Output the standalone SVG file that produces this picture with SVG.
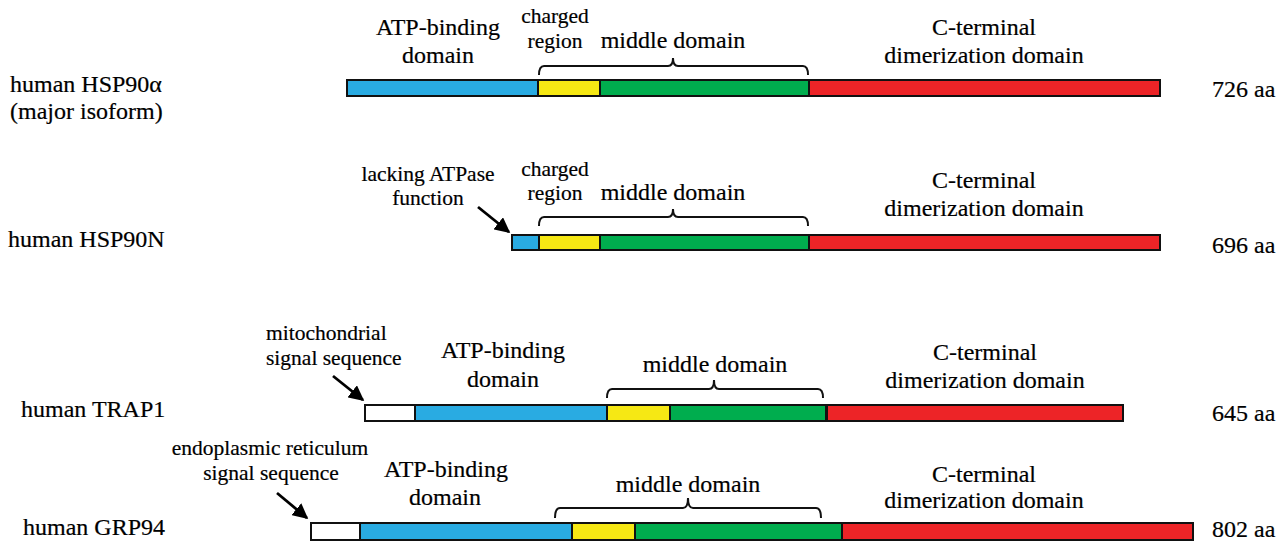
<svg xmlns="http://www.w3.org/2000/svg" width="1288" height="544" viewBox="0 0 1288 544" font-family="Liberation Serif, DejaVu Serif, serif">
<style>
text{font-family:'Liberation Serif','DejaVu Serif',serif;fill:#000;stroke:#000;stroke-width:0.2px;}
.m{font-size:24px;}
.s{font-size:21.5px;}
.c{text-anchor:middle;}
.seg{stroke:#111;stroke-width:2;}
.w{fill:#ffffff;}
.b{fill:#29abe2;}
.y{fill:#f6e814;}
.g{fill:#00ad4e;}
.r{fill:#ed2427;}
.br{fill:none;stroke:#111;stroke-width:2;}
.ar{stroke:#000;stroke-width:2.8;fill:none;}
</style>
<defs>
<marker id="ah" viewBox="0 0 10 10" refX="9" refY="5" markerWidth="5.5" markerHeight="5.5" orient="auto" markerUnits="strokeWidth">
<path d="M0,0 L10,5 L0,10 z" fill="#000"/>
</marker>
</defs>
<rect width="1288" height="544" fill="#ffffff"/>

<g id="hsp90a">
<text class="m" x="10" y="92">human HSP90α</text>
<text class="m" x="10" y="119">(major isoform)</text>
<rect class="seg b" x="347" y="80" width="191" height="16"/>
<rect class="seg y" x="538" y="80" width="62" height="16"/>
<rect class="seg g" x="600" y="80" width="209" height="16"/>
<rect class="seg r" x="809" y="80" width="351" height="16"/>
<text class="m c" x="438" y="35">ATP-binding</text>
<text class="m c" x="438" y="63">domain</text>
<text class="s c" x="555" y="23">charged</text>
<text class="s c" x="555" y="48">region</text>
<text class="m c" x="673" y="48">middle domain</text>
<text class="m c" x="984" y="35">C-terminal</text>
<text class="m c" x="984" y="63">dimerization domain</text>
<text class="m" x="1212" y="97">726 aa</text>
</g>

<g id="hsp90n">
<text class="m" x="8" y="247">human HSP90N</text>
<rect class="seg b" x="512" y="235" width="27" height="15"/>
<rect class="seg y" x="539" y="235" width="61" height="15"/>
<rect class="seg g" x="600" y="235" width="209" height="15"/>
<rect class="seg r" x="809" y="235" width="351" height="15"/>
<text class="s c" x="428" y="181">lacking ATPase</text>
<text class="s c" x="428" y="205">function</text>
<text class="s c" x="555" y="176">charged</text>
<text class="s c" x="555" y="200">region</text>
<text class="m c" x="673" y="200">middle domain</text>
<text class="m c" x="984" y="188">C-terminal</text>
<text class="m c" x="984" y="216">dimerization domain</text>
<text class="m" x="1212" y="253">696 aa</text>
</g>

<g id="trap1">
<text class="m" x="21" y="417">human TRAP1</text>
<rect class="seg w" x="365" y="405" width="50" height="16"/>
<rect class="seg b" x="415" y="405" width="192" height="16"/>
<rect class="seg y" x="607" y="405" width="63" height="16"/>
<rect class="seg g" x="670" y="405" width="156" height="16"/>
<rect class="seg r" x="827" y="405" width="296" height="16"/>
<text class="s" x="266" y="340">mitochondrial</text>
<text class="s" x="266" y="365">signal sequence</text>
<text class="m c" x="503" y="358">ATP-binding</text>
<text class="m c" x="503" y="387">domain</text>
<text class="m c" x="715" y="372">middle domain</text>
<text class="m c" x="985" y="360">C-terminal</text>
<text class="m c" x="985" y="388">dimerization domain</text>
<text class="m" x="1212" y="421">645 aa</text>
</g>

<g id="grp94">
<text class="m" x="23" y="535">human GRP94</text>
<rect class="seg w" x="311" y="523" width="49" height="17"/>
<rect class="seg b" x="360" y="523" width="212" height="17"/>
<rect class="seg y" x="572" y="523" width="63" height="17"/>
<rect class="seg g" x="635" y="523" width="207" height="17"/>
<rect class="seg r" x="842" y="523" width="351" height="17"/>
<text class="s c" x="270" y="455">endoplasmic reticulum</text>
<text class="s c" x="271" y="480">signal sequence</text>
<text class="m c" x="446" y="477">ATP-binding</text>
<text class="m c" x="445" y="505">domain</text>
<text class="m c" x="688" y="492">middle domain</text>
<text class="m c" x="984" y="482">C-terminal</text>
<text class="m c" x="984" y="508">dimerization domain</text>
<text class="m" x="1212" y="537">802 aa</text>
</g>

<g id="connectors">
<path class="br" d="M539,75 Q539,66 544,66 L668,66 Q673,66 673,58 Q673,66 678,66 L803,66 Q808,66 808,75"/>
<path class="br" d="M539,226 Q539,217 544,217 L668,217 Q673,217 673,209 Q673,217 678,217 L803,217 Q808,217 808,226"/>
<path class="br" d="M607,398 Q607,389 612,389 L709,389 Q714,389 714,380 Q714,389 719,389 L818,389 Q823,389 823,398"/>
<path class="br" d="M555,518 Q555,508 560,508 L683,508 Q688,508 688,498 Q688,508 693,508 L816,508 Q821,508 821,518"/>
<line class="ar" x1="478" y1="207" x2="509" y2="232" marker-end="url(#ah)"/>
<line class="ar" x1="333" y1="376" x2="363" y2="400" marker-end="url(#ah)"/>
<line class="ar" x1="277" y1="493" x2="307" y2="518" marker-end="url(#ah)"/>
</g>
</svg>
